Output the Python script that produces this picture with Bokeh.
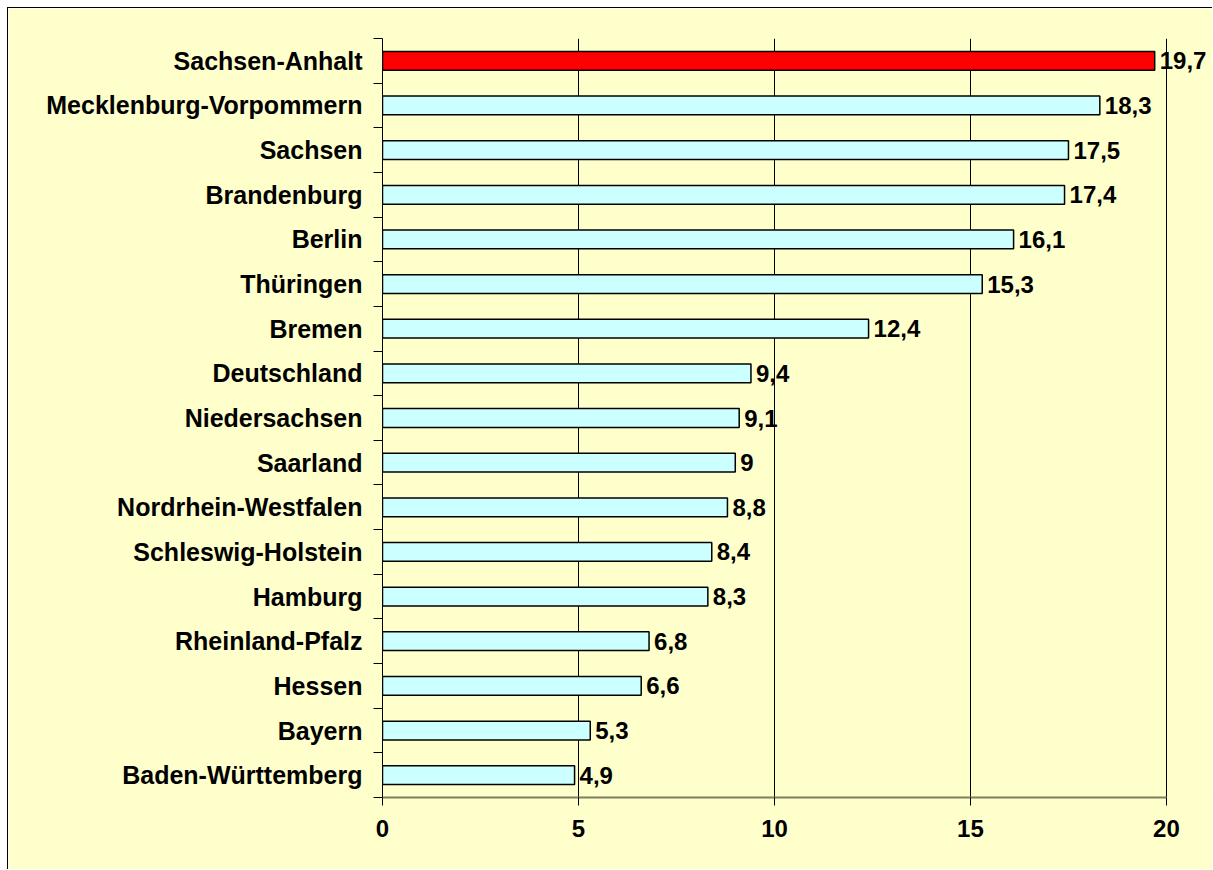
from bokeh.plotting import figure
from bokeh.models import ColumnDataSource, FixedTicker, LabelSet, Range1d
from bokeh.core.properties import value
from bokeh.embed import file_html
from bokeh.resources import INLINE

states = [
    "Sachsen-Anhalt", "Mecklenburg-Vorpommern", "Sachsen", "Brandenburg", "Berlin",
    "Thüringen", "Bremen", "Deutschland", "Niedersachsen", "Saarland",
    "Nordrhein-Westfalen", "Schleswig-Holstein", "Hamburg", "Rheinland-Pfalz",
    "Hessen", "Bayern", "Baden-Württemberg",
]
values = [19.7, 18.3, 17.5, 17.4, 16.1, 15.3, 12.4, 9.4, 9.1, 9.0, 8.8, 8.4, 8.3, 6.8, 6.6, 5.3, 4.9]
highlight = "Sachsen-Anhalt"
x_ticks = [0, 5, 10, 15, 20]
x_max = 20

BG = "#FFFFCC"
FONT = "Liberation Sans"

n = len(states)
ypos = [n - i - 0.5 for i in range(n)]
fills = ["#FF0000" if s == highlight else "#CCFFFF" for s in states]
labels = [f"{v:g}".replace(".", ",") for v in values]

src = ColumnDataSource(dict(y=ypos, v=values, fill=fills, lbl=labels, name=states))

p = figure(
    width=1205, height=862,
    x_range=Range1d(0, 21.2), y_range=Range1d(0, n),
    output_backend="svg", toolbar_location=None,
    min_border_left=374, min_border_right=0, min_border_top=30, min_border_bottom=73,
)
p.styles = {"margin-left": "7px", "margin-top": "7px",
            "border-left": "1px solid black", "border-top": "1px solid black"}
p.background_fill_color = BG
p.border_fill_color = BG
p.outline_line_color = None

p.hbar(y="y", left=0, right="v", height=0.42, fill_color="fill",
       line_color="black", line_width=1.5, source=src)

lbls = LabelSet(x="v", y="y", text="lbl", source=src, x_offset=5,
                text_baseline="middle", text_align="left",
                text_font=value(FONT), text_font_style="bold", text_font_size="24px",
                text_color="black")
p.add_layout(lbls)

# y axis
p.yaxis.ticker = FixedTicker(ticks=ypos, minor_ticks=list(range(n + 1)))
p.yaxis.major_label_overrides = {y: s for y, s in zip(ypos, states)}
p.yaxis.major_tick_in = 0
p.yaxis.major_tick_out = 0
p.yaxis.minor_tick_in = 0
p.yaxis.minor_tick_out = 9
p.yaxis.minor_tick_line_color = "black"
p.yaxis.axis_line_color = "black"
p.yaxis.axis_line_width = 1
p.yaxis.major_label_standoff = 11
p.yaxis.major_label_text_font = FONT
p.yaxis.major_label_text_font_style = "bold"
p.yaxis.major_label_text_font_size = "25px"
p.yaxis.major_label_text_color = "black"
p.ygrid.visible = False

# x axis
p.xaxis.ticker = FixedTicker(ticks=x_ticks, minor_ticks=[])
p.xaxis.bounds = (0, x_max)
p.xaxis.axis_line_color = "#7F7F5F"
p.xaxis.axis_line_width = 2
p.xaxis.major_tick_in = 0
p.xaxis.major_tick_out = 8
p.xaxis.major_tick_line_color = "black"
p.xaxis.minor_tick_line_color = None
p.xaxis.major_label_standoff = 14
p.xaxis.major_label_text_font = FONT
p.xaxis.major_label_text_font_style = "bold"
p.xaxis.major_label_text_font_size = "24px"
p.xaxis.major_label_text_color = "black"

p.xgrid.ticker = FixedTicker(ticks=x_ticks)
p.xgrid.grid_line_color = "black"
p.xgrid.grid_line_width = 1
p.xgrid.grid_line_alpha = 1.0

open("out.html", "w").write(file_html(p, INLINE))
